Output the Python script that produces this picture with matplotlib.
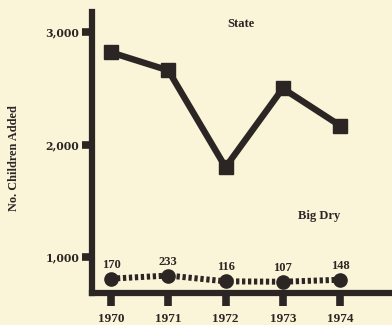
import matplotlib.pyplot as plt
from matplotlib import rc

rc('font', **{'family': 'Liberation Serif', 'weight': 'bold'})

bg = '#faf4d8'
ink = '#2b2624'

years = [1970, 1971, 1972, 1973, 1974]
state = [2820, 2660, 1800, 2500, 2170]
big_dry = [170, 233, 116, 107, 148]
ytick_vals = [1000, 2000, 3000]
ytick_labels = ['1,000', '2,000', '3,000']

fig = plt.figure(figsize=(3.92, 3.25), dpi=100, facecolor=bg)
ax = fig.add_axes([92/392, 32/325, 300/392, 281/325])
ax.set_facecolor(bg)

ax.set_xlim(1969.668, 1974.908)
ax.set_ylim(682, 3179)

ax.plot(years, state, '-', color=ink, lw=4.6, marker='s', ms=10,
        solid_joinstyle='miter', zorder=3)

# big dry is drawn on its own (much finer) scale near the bottom
ax2 = ax.twinx()
ax2.set_ylim(-121, 5579)
ax2.axis('off')
ax2.plot(years, big_dry, color=ink, lw=4.3, linestyle=(0, (0.55, 0.45)),
         dash_capstyle='butt', zorder=2)
ax2.plot(years, big_dry, 'o', color=ink, ms=9.5, zorder=3)
for x, v in zip(years, big_dry):
    ax2.annotate('%d' % v, (x, v), xytext=(0, 10), textcoords='offset points',
                 ha='center', va='center', fontsize=9, color=ink)

for s in ['top', 'right']:
    ax.spines[s].set_visible(False)
for s in ['left', 'bottom']:
    ax.spines[s].set_linewidth(4.5)
    ax.spines[s].set_color(ink)

ax.set_yticks(ytick_vals)
ax.set_yticklabels(ytick_labels, fontfamily='DejaVu Serif', fontsize=7.8)
ax.set_xticks(years)
ax.set_xticklabels([str(y) for y in years], fontsize=9.5)
ax.tick_params(axis='y', length=7.2, width=5.5, pad=2, color=ink, labelcolor=ink)
ax.tick_params(axis='x', length=9.4, width=5.5, pad=5, color=ink, labelcolor=ink)

ax.text(0.497, 0.957, 'State', transform=ax.transAxes, ha='center', va='center',
        fontsize=9, color=ink)
ax.text(0.757, 0.274, 'Big Dry', transform=ax.transAxes, ha='center', va='center',
        fontsize=9, color=ink)
fig.text(14/392, 1 - 158/325, 'No. Children Added', rotation=90, ha='center',
         va='center', fontsize=8.8, color=ink)

fig.savefig('out.png', dpi=100, facecolor=bg)
